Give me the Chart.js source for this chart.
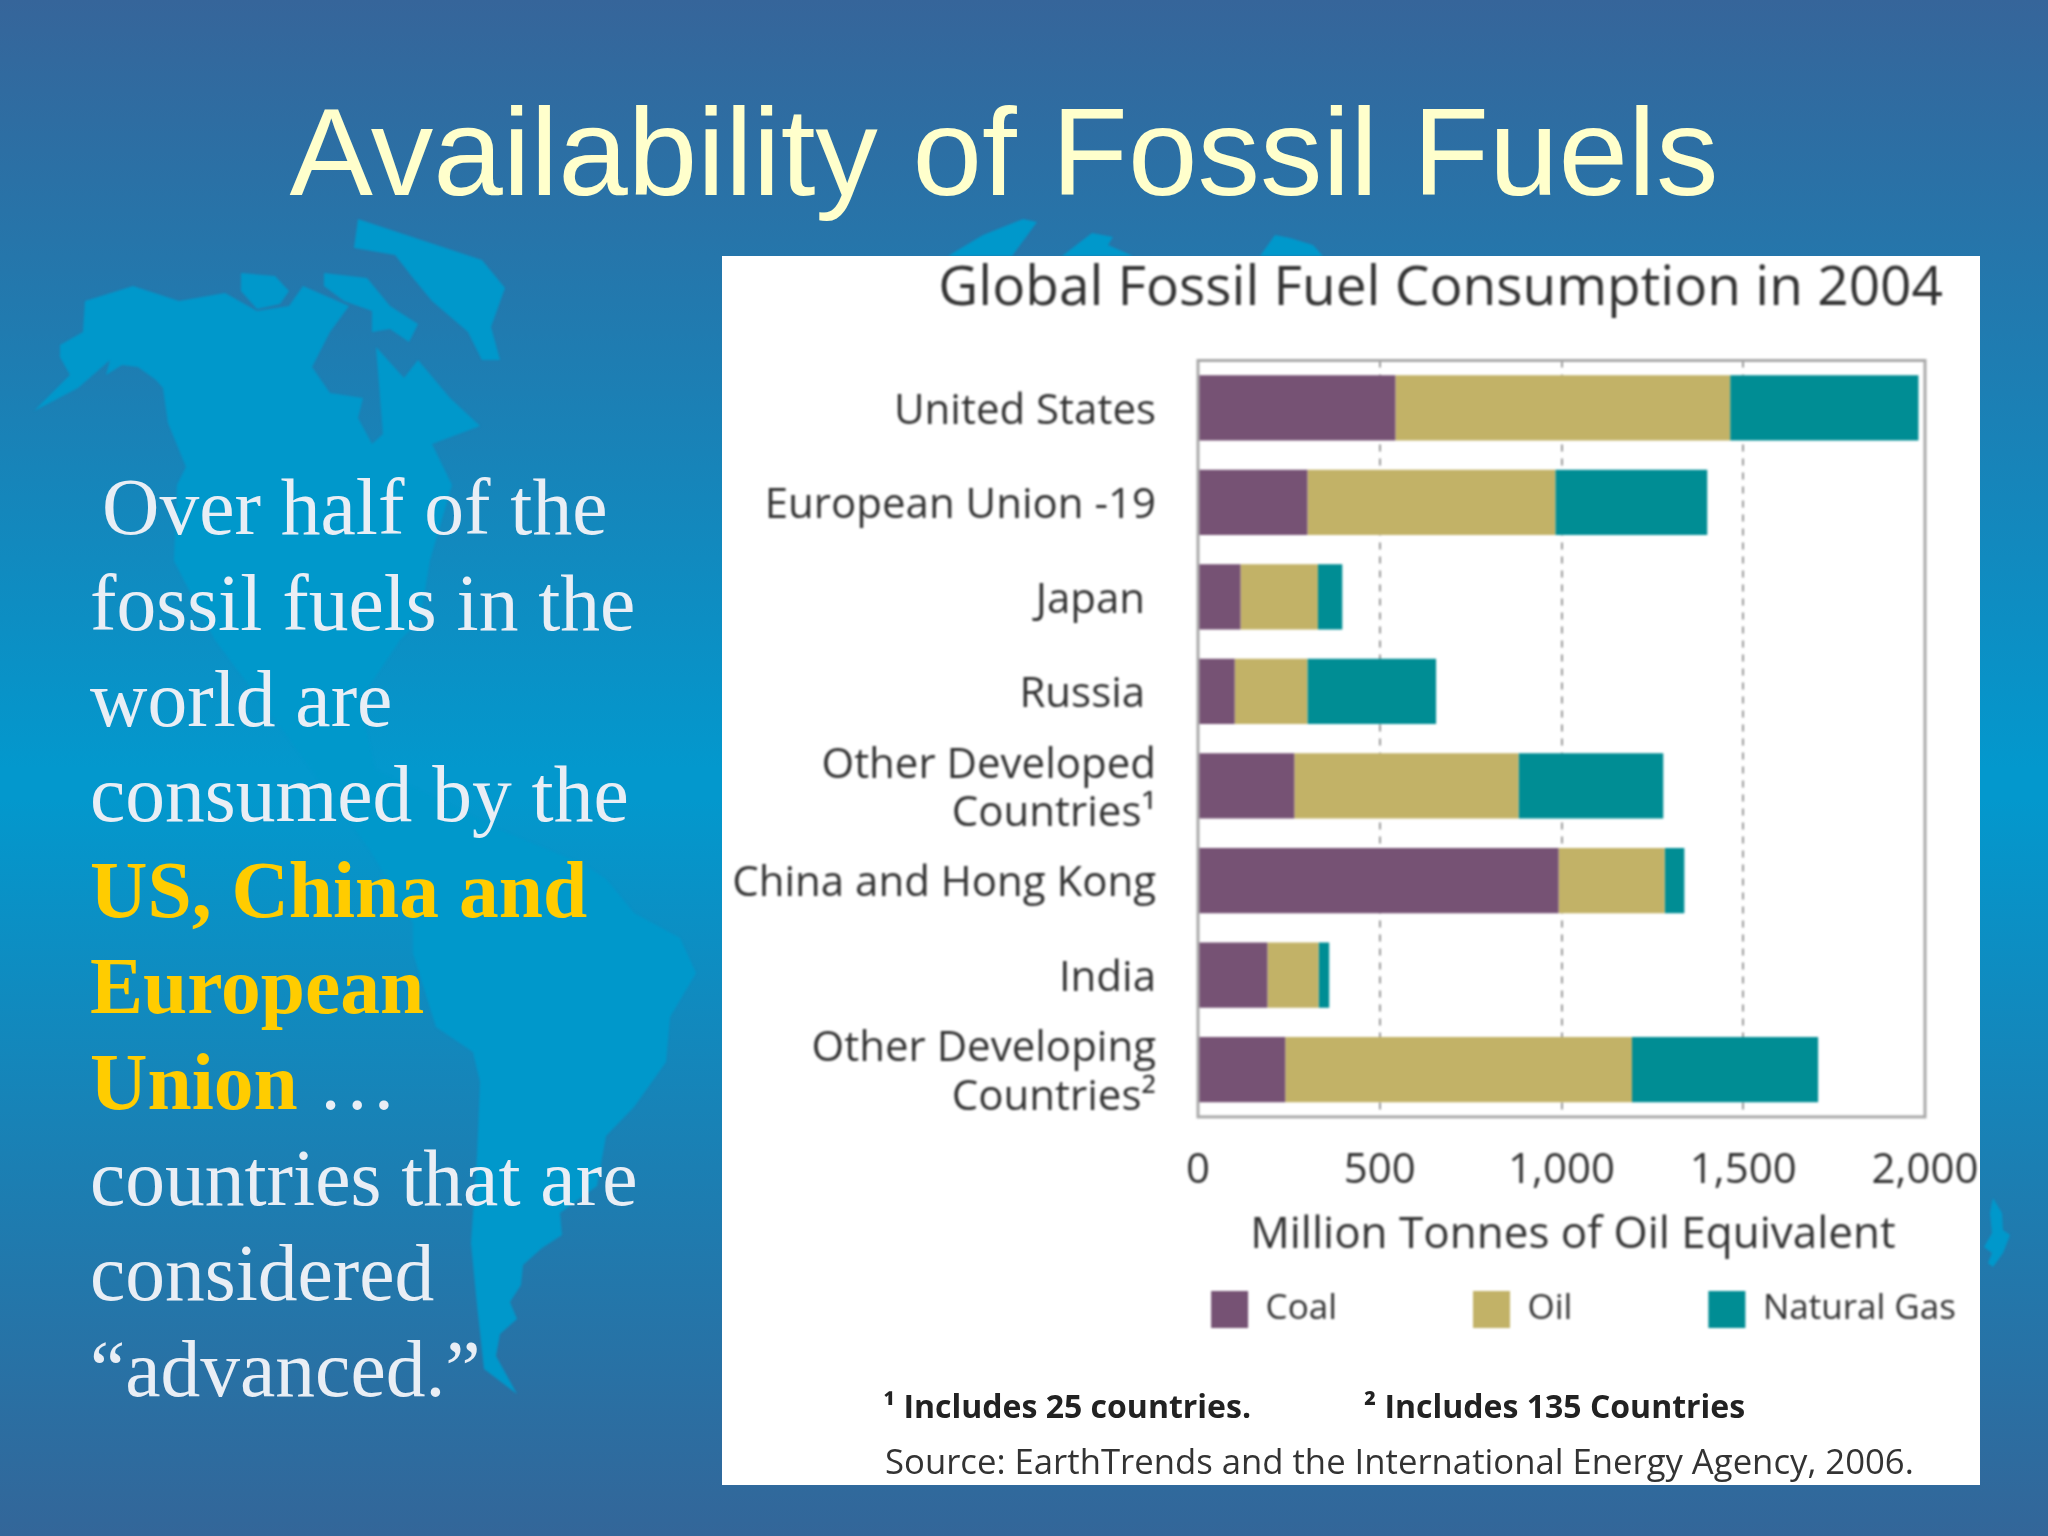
<!DOCTYPE html>
<html>
<head>
<meta charset="utf-8">
<title>Availability of Fossil Fuels</title>
<script src="https://cdn.jsdelivr.net/npm/chart.js@4/dist/chart.umd.min.js"></script>
<style>
  html, body { margin: 0; padding: 0; }
  body {
    position: relative; width: 2048px; height: 1536px; overflow: hidden;
    background: linear-gradient(to bottom, #36659a 0%, #0398cd 50%, #0398cd 52%, #336699 100%);
  }
  #map { position: absolute; left: 0; top: 0; filter: blur(1px); }
  h1 {
    position: absolute; left: 0; width: 2008px; top: 82px; margin: 0; text-align: center;
    font: normal 125px/140px "Liberation Sans", sans-serif; color: #ffffcc;
  }
  #side {
    position: absolute; left: 90px; top: 460px; white-space: pre;
    font: 79.5px/95.8px "Liberation Serif", serif; color: #e9eef5;
  }
  #side b { color: #ffcc00; }
  #side span { margin-left: 12px; }
  #panel { position: absolute; left: 722px; top: 256px; width: 1258px; height: 1229px; background: #fff; }
  #panel canvas { position: absolute; left: 0; top: 0; filter: blur(0.8px); }
  .note { position: absolute; white-space: pre; font-family: "Open Sans", sans-serif; color: #222; filter: blur(0.7px); }
</style>
</head>
<body>
<svg id="map" width="2048" height="1536" fill="#0098cb">
  <path d="M358 219L482 260L505 288L491 327L500 360L482 360L468 332L432 301L413 278L395 255L354 248Z"/>
  <path d="M241 273L275 276L289 291L280 304L257 309L241 291Z"/>
  <path d="M324 273L367 278L390 306L418 324L409 342L390 329L372 332L372 311L344 301L324 286Z"/>
  <path d="M34 411L78 388L110 360L106 375L122 365L138 367L156 380L163 388L168 423L186 467L177 485L174 561L215 640L290 740L370 850L413 923L413 953L436 1027L473 1052L480 1082L477 1156L471 1243L477 1305L484 1369L517 1394L496 1356L500 1334L517 1319L510 1302L521 1285L523 1265L542 1248L562 1235L560 1213L597 1186L606 1136L634 1107L666 1062L670 1017L696 973L680 938L634 913L606 879L583 864L500 830L440 800L375 770L360 700L400 640L420 620L430 560L452 485L432 444L480 426L450 398L418 360L404 378L376 347L383 434L372 444L358 418L363 398L330 393L312 367L330 332L349 306L303 286L289 306L257 311L225 293L179 301L133 286L85 301L83 332L60 345L60 357L70 375Z"/>
  <path d="M948 256L983 235L1023 219L1037 222L1012 256Z"/>
  <path d="M1062 256L1092 233L1113 237L1108 245L1133 256Z"/>
  <path d="M1260 256L1275 235L1290 238L1313 245L1323 256Z"/>
  <path d="M1993 1198L2002 1213L2003 1230L2010 1235L2003 1253L1993 1267L1988 1263L1992 1253L1984 1247L1992 1233L1990 1213Z"/>
</svg>

<h1>Availability of Fossil Fuels</h1>
<div id="side"><span>Over half of the</span>
fossil fuels in the
world are
consumed by the
<b>US, China and
European
Union</b> …
countries that are
considered
“advanced.”</div>

<div id="panel">
  <canvas id="fuelChart" width="1258" height="1229"></canvas>
  <div class="note" style="left:161px;top:1128px;font-size:32px;font-weight:700;">¹ Includes 25 countries.</div>
  <div class="note" style="left:642px;top:1128px;font-size:32px;font-weight:700;">² Includes 135 Countries</div>
  <div class="note" style="left:163px;top:1181px;font-size:34.7px;color:#333;">Source: EarthTrends and the International Energy Agency, 2006.</div>
</div>

<script>
const categories = [
  'United States', 'European Union -19', 'Japan ', 'Russia ',
  ['Other Developed', 'Countries¹'], 'China and Hong Kong', 'India',
  ['Other Developing', 'Countries²']
];
const coal = [543, 301, 117, 101, 265, 992, 191, 240];
const oil = [921, 682, 213, 200, 617, 292, 141, 954];
const gas = [518, 418, 67, 354, 398, 54, 29, 512];
const colors = { coal: '#765274', oil: '#c2b267', gas: '#008d94' };

const textColor = '#333';
const family = '"Open Sans", sans-serif';
const tickFont = { family, size: 42, lineHeight: 1.15 };
const legendFont = { family, size: 35 };

// title and legend don't sit where chart.js would stack them, so move them after layout
const placeBoxes = {
  id: 'placeBoxes',
  afterLayout(chart) {
    chart.titleBlock.right += 18;
    const lg = chart.legend;
    const dx = 260;
    lg.left += dx; lg.right += dx;
    const dy = 899 - lg.top;
    lg.top += dy; lg.bottom += dy;
  }
};

const plotFrame = {
  id: 'plotFrame',
  afterDatasetsDraw(chart) {
    const { ctx, chartArea: a } = chart;
    ctx.save();
    ctx.strokeStyle = '#a9a9a9';
    ctx.lineWidth = 3;
    ctx.strokeRect(a.left, a.top, a.width, a.height);
    ctx.restore();
  }
};

new Chart(document.getElementById('fuelChart').getContext('2d'), {
  type: 'bar',
  data: {
    labels: categories,
    datasets: [
      { label: 'Coal', data: coal, backgroundColor: colors.coal },
      { label: 'Oil', data: oil, backgroundColor: colors.oil },
      { label: 'Natural Gas', data: gas, backgroundColor: colors.gas }
    ]
  },
  options: {
    indexAxis: 'y',
    responsive: false,
    animation: false,
    devicePixelRatio: 1,
    datasets: { bar: { barPercentage: 0.69, categoryPercentage: 1 } },
    layout: { padding: { left: 0, right: 55, top: 0, bottom: 33 } },
    plugins: {
      title: {
        display: true,
        text: 'Global Fossil Fuel Consumption in 2004',
        align: 'end',
        color: textColor,
        font: { family, size: 55, weight: 'normal', lineHeight: 1.1 },
        padding: { top: 3, bottom: 41 }
      },
      legend: {
        position: 'bottom',
        labels: {
          color: textColor,
          font: legendFont,
          boxWidth: 37,
          boxHeight: 37,
          padding: 136
        }
      },
      tooltip: { enabled: false }
    },
    scales: {
      x: {
        stacked: true,
        min: 0,
        max: 2000,
        afterFit: s => { s.paddingRight = 0; },
        grid: { color: '#9a9a9a', lineWidth: 2, drawTicks: false },
        border: { display: false, dash: [7, 7] },
        ticks: {
          stepSize: 500,
          padding: 30,
          maxRotation: 0,
          color: textColor,
          font: tickFont,
          callback: v => v.toLocaleString('en-US')
        },
        title: {
          display: true,
          text: '  Million Tonnes of Oil Equivalent',
          color: textColor,
          font: { family, size: 44 },
          padding: { top: -16, bottom: 7 }
        }
      },
      y: {
        stacked: true,
        afterFit: s => { s.width = 476; },
        grid: { display: false },
        border: { display: false },
        ticks: { color: textColor, font: tickFont, padding: 34, labelOffset: 4, autoSkip: false }
      }
    }
  },
  plugins: [placeBoxes, plotFrame]
});
</script>
</body>
</html>
